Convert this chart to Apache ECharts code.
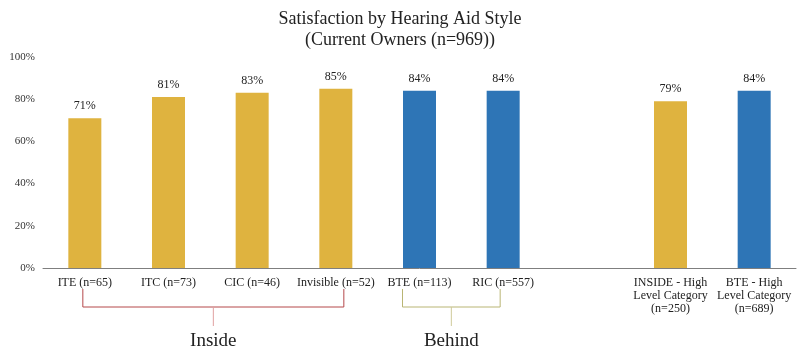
<!DOCTYPE html>
<html>
<head>
<meta charset="utf-8">
<script src="https://cdn.jsdelivr.net/npm/echarts@6/dist/echarts.min.js"></script>
<style>
  html, body { margin: 0; padding: 0; background: #fff; }
  #main { width: 800px; height: 353px; }
</style>
</head>
<body>
<div id="main"></div>
<script>
// categories, blank one is the gap between the groups
const categories = [
  'ITE (n=65)', 'ITC (n=73)', 'CIC (n=46)', 'Invisible (n=52)',
  'BTE (n=113)', 'RIC (n=557)', '',
  'INSIDE - High\nLevel Category\n(n=250)', 'BTE - High\nLevel Category\n(n=689)'
]
const values = [71, 81, 83, 85, 84, 84, null, 79, 84]
// 'in' = inside styles, 'be' = behind styles
const groups = ['in', 'in', 'in', 'in', 'be', 'be', '', 'in', 'be']
const yTicks = [0, 20, 40, 60, 80, 100]

const GOLD = '#DFB33F'
const BLUE = '#2E75B6'
const serif = "'Liberation Serif', 'DejaVu Serif', serif"

let myChart = echarts.init(document.getElementById('main'))

myChart.setOption({
  animation: false,
  title: {
    text: 'Satisfaction by Hearing Aid Style\n(Current Owners (n=969))',
    left: 'center',
    top: 4,
    textStyle: {
      fontFamily: serif,
      fontWeight: 'normal',
      fontSize: 18,
      lineHeight: 21,
      color: '#222'
    }
  },
  grid: {
    top: 57,
    left: 43,
    right: 4,
    bottom: 85
  },
  xAxis: {
    type: 'category',
    data: categories,
    axisTick: { show: false },
    axisLine: { lineStyle: { color: '#7f7f7f', width: 1 } },
    axisLabel: {
      interval: 0,
      margin: 8,
      fontFamily: serif,
      fontSize: 12,
      lineHeight: 13,
      color: '#222'
    }
  },
  yAxis: {
    type: 'value',
    min: yTicks[0],
    max: yTicks[yTicks.length - 1],
    interval: 20,
    splitLine: { show: false },
    axisLine: { show: false },
    axisTick: { show: false },
    axisLabel: {
      formatter: '{value}%',
      fontFamily: serif,
      fontSize: 11,
      color: '#333',
      margin: 8
    }
  },
  series: [{
    type: 'bar',
    barWidth: 33,
    data: values.map((v, i) => ({
      value: v,
      itemStyle: { color: groups[i] == 'be' ? BLUE : GOLD }
    })),
    label: {
      show: true,
      position: 'top',
      distance: 6,
      formatter: '{c}%',
      fontFamily: serif,
      fontSize: 12,
      color: '#222'
    }
  }]
})

// brackets under the x labels, placed from the axis positions
function px(name) {
  return myChart.convertToPixel({ xAxisIndex: 0 }, name)
}
function bracket(a, b, offA, offB, color, stemColor, text) {
  const x1 = px(a) + offA, x2 = px(b) + offB
  const mid = (x1 + x2) / 2
  const yTop = 289, yBar = 307, yStem = 326
  return [
    {
      type: 'polyline',
      shape: { points: [[x1, yTop], [x1, yBar], [x2, yBar], [x2, yTop]] },
      style: { stroke: color, lineWidth: 1, fill: null },
      silent: true
    },
    {
      type: 'line',
      shape: { x1: mid, y1: yBar, x2: mid, y2: yStem },
      style: { stroke: stemColor, lineWidth: 1 },
      silent: true
    },
    {
      type: 'text',
      x: mid,
      y: 341,
      style: {
        text: text,
        fontFamily: serif,
        fontSize: 19,
        fill: '#222',
        align: 'center',
        verticalAlign: 'middle'
      },
      silent: true
    }
  ]
}

myChart.setOption({
  graphic: [
    ...bracket(categories[0], categories[3], -2, 8, '#B5484B', '#E0A0A0', 'Inside'),
    ...bracket(categories[4], categories[5], -17, -3, '#B9B574', '#CFCB9A', 'Behind')
  ]
})
</script>
</body>
</html>
